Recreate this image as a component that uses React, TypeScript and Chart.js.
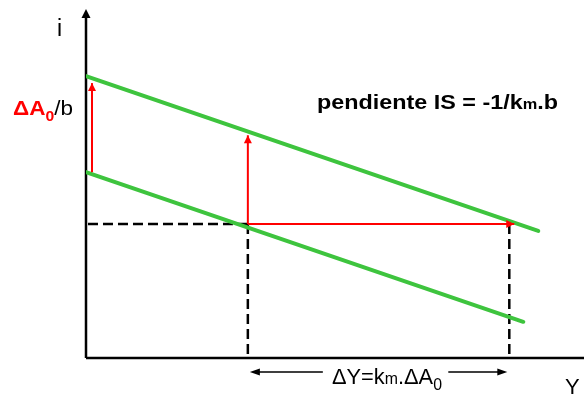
import React, { useEffect, useRef } from "react";
import { Chart, registerables } from "chart.js";

Chart.register(...registerables);

// Output (Y) and interest rate (i) values in diagram units (0..100)
const isInitialY = [0, 87.8];
const isInitialI = [53.4, 10.4];
const isShiftedY = [0, 90.8];
const isShiftedI = [81.0, 36.5];

const Y0 = 32.5;
const Y1 = 85.0;
const i0 = 38.5;

// Red shift arrows: vertical shift ΔA0/b and horizontal ΔY
const shiftLeftY = [1.2, 1.2];
const shiftLeftI = [53.4, 79.0];
const shiftMidY = [Y0, Y0];
const shiftMidI = [i0, 64.0];
const shiftHorY = [Y0, 86.0];
const shiftHorI = [i0, i0];

const GREEN = "#3ec43e";
const RED = "#ff0000";

const pts = (xs: number[], ys: number[]) => xs.map((x, k) => ({ x, y: ys[k] }));

type Seg = { text: string; font: string; color: string; dy?: number };

function drawRich(ctx: CanvasRenderingContext2D, segs: Seg[], x: number, y: number, width?: number) {
  ctx.save();
  let total = 0;
  for (const s of segs) {
    ctx.font = s.font;
    total += ctx.measureText(s.text).width;
  }
  ctx.translate(x, y);
  if (width) ctx.scale(width / total, 1);
  ctx.textBaseline = "alphabetic";
  ctx.textAlign = "left";
  let cx = 0;
  for (const s of segs) {
    ctx.font = s.font;
    ctx.fillStyle = s.color;
    ctx.fillText(s.text, cx, s.dy || 0);
    cx += ctx.measureText(s.text).width;
  }
  ctx.restore();
}

function arrowHead(ctx: CanvasRenderingContext2D, x1: number, y1: number, x2: number, y2: number, len: number, half: number, color: string) {
  const a = Math.atan2(y2 - y1, x2 - x1);
  ctx.save();
  ctx.fillStyle = color;
  ctx.beginPath();
  ctx.moveTo(x2, y2);
  ctx.lineTo(x2 - len * Math.cos(a) + half * Math.sin(a), y2 - len * Math.sin(a) - half * Math.cos(a));
  ctx.lineTo(x2 - len * Math.cos(a) - half * Math.sin(a), y2 - len * Math.sin(a) + half * Math.cos(a));
  ctx.closePath();
  ctx.fill();
  ctx.restore();
}

const F = "'Liberation Sans', Arial, sans-serif";

const diagramPlugin = {
  id: "diagram",
  beforeDatasetsDraw(chart: any) {
    const { ctx, chartArea: ca } = chart;
    ctx.save();
    ctx.strokeStyle = "#000";
    ctx.lineWidth = 2.5;
    ctx.beginPath();
    ctx.moveTo(ca.left, ca.bottom);
    ctx.lineTo(ca.left, ca.top + 6);
    ctx.moveTo(ca.left, ca.bottom);
    ctx.lineTo(chart.width, ca.bottom);
    ctx.stroke();
    ctx.restore();
    arrowHead(ctx, ca.left, ca.bottom, ca.left, ca.top - 1, 9, 4.5, "#000");
  },
  afterDatasetsDraw(chart: any) {
    const { ctx, chartArea: ca } = chart;
    chart.data.datasets.forEach((ds: any, di: number) => {
      if (!ds.arrow) return;
      const meta = chart.getDatasetMeta(di);
      const n = meta.data.length;
      const p1 = meta.data[n - 2];
      const p2 = meta.data[n - 1];
      arrowHead(ctx, p1.x, p1.y, p2.x, p2.y, 8, 4, ds.borderColor);
    });

    // ΔY bracket arrows below the x axis
    const xs = chart.scales.x;
    const yb = ca.bottom + 14;
    const xl = xs.getPixelForValue(Y0) + 2;
    const xr = xs.getPixelForValue(Y1) - 2;
    ctx.save();
    ctx.strokeStyle = "#000";
    ctx.lineWidth = 1.5;
    ctx.beginPath();
    ctx.moveTo(xl + 6, yb);
    ctx.lineTo(xl + 73, yb);
    ctx.moveTo(xr - 59, yb);
    ctx.lineTo(xr - 6, yb);
    ctx.stroke();
    ctx.restore();
    arrowHead(ctx, xl + 20, yb, xl, yb, 10, 3.5, "#000");
    arrowHead(ctx, xr - 20, yb, xr, yb, 10, 3.5, "#000");

    // Texts
    drawRich(ctx, [{ text: "i", font: `23px ${F}`, color: "#000" }], ca.left - 29, 36);
    drawRich(
      ctx,
      [
        { text: "ΔA", font: `bold 20px ${F}`, color: RED },
        { text: "0", font: `bold 14px ${F}`, color: RED, dy: 6 },
        { text: "/b", font: `20px ${F}`, color: "#000" },
      ],
      13,
      115,
      60
    );
    drawRich(
      ctx,
      [
        { text: "pendiente IS = -1/k", font: `bold 20px ${F}`, color: "#000" },
        { text: "m", font: `bold 14px ${F}`, color: "#000" },
        { text: ".b", font: `bold 20px ${F}`, color: "#000" },
      ],
      317,
      109,
      241
    );
    drawRich(
      ctx,
      [
        { text: "ΔY=k", font: `22px ${F}`, color: "#000" },
        { text: "m", font: `16px ${F}`, color: "#000" },
        { text: ".ΔA", font: `22px ${F}`, color: "#000" },
        { text: "0", font: `16px ${F}`, color: "#000", dy: 6 },
      ],
      332,
      384,
      110
    );
    drawRich(ctx, [{ text: "Y", font: `22px ${F}`, color: "#000" }], 565, 394);
  },
};

export default function App() {
  const ref = useRef<HTMLCanvasElement | null>(null);
  useEffect(() => {
    document.body.style.margin = "0";
    const canvas = ref.current!;
    const line = (data: any[], color: string, width: number, extra: any = {}) => ({
      data,
      borderColor: color,
      backgroundColor: color,
      borderWidth: width,
      showLine: true,
      pointRadius: 0,
      fill: false,
      tension: 0,
      ...extra,
    });
    const chart = new Chart(canvas, {
      type: "scatter",
      data: {
        datasets: [
          line(pts(shiftLeftY, shiftLeftI), RED, 2, { arrow: true }),
          line(pts(shiftMidY, shiftMidI), RED, 2, { arrow: true }),
          line(pts(shiftHorY, shiftHorI), RED, 2, { arrow: true }),
          line(pts(isShiftedY, isShiftedI), GREEN, 4, { borderCapStyle: "round" }),
          line(pts(isInitialY, isInitialI), GREEN, 4, { borderCapStyle: "round" }),
          line(pts([0.4, Y0], [i0, i0]), "#000", 2.5, { borderDash: [10, 5] }),
          line(pts([Y0, Y0], [i0, 0]), "#000", 2.5, { borderDash: [10, 5] }),
          line(pts([Y1, Y1], [i0, 0]), "#000", 2.5, { borderDash: [10, 5] }),
        ],
      } as any,
      options: {
        responsive: false,
        animation: false,
        events: [],
        layout: { padding: { left: 86, top: 10, right: 0, bottom: 37 } },
        plugins: { legend: { display: false }, tooltip: { enabled: false }, title: { display: false } },
        scales: {
          x: { type: "linear", min: 0, max: 100, display: false },
          y: { type: "linear", min: 0, max: 100, display: false },
        },
      },
      plugins: [diagramPlugin],
    });
    return () => chart.destroy();
  }, []);
  return (
    <div style={{ position: "fixed", left: 0, top: 0, width: 584, height: 395, background: "#fff" }}>
      <canvas ref={ref} width={584} height={395} style={{ width: 584, height: 395, display: "block" }} />
    </div>
  );
}
